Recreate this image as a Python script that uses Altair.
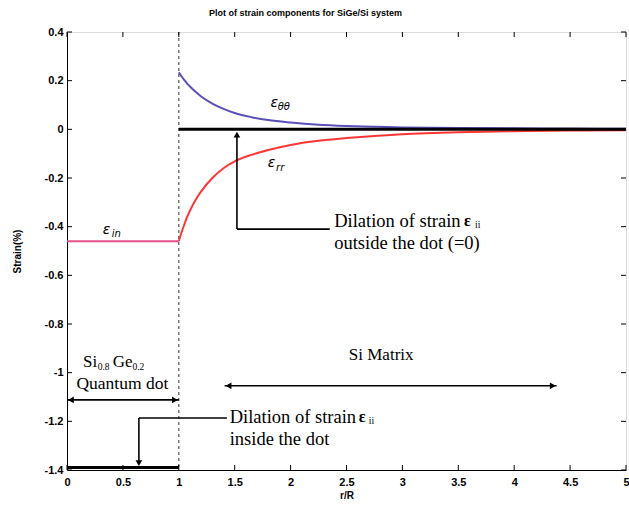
import altair as alt
import pandas as pd

# ---------------- data ----------------
r_out = [1.0, 1.025, 1.05, 1.075, 1.1, 1.15, 1.2, 1.3, 1.4, 1.5, 1.65, 1.8, 2.0, 2.25, 2.5, 2.75, 3.0, 3.5, 4.0, 4.5, 5.0]
eps_theta = [0.234, 0.217, 0.202, 0.188, 0.176, 0.154, 0.135, 0.106, 0.084, 0.067, 0.050, 0.038, 0.028, 0.019, 0.014, 0.011, 0.008, 0.005, 0.004, 0.003, 0.002]
eps_rr = [-0.46, -0.423, -0.39, -0.36, -0.334, -0.29, -0.255, -0.2, -0.16, -0.132, -0.105, -0.085, -0.064, -0.047, -0.036, -0.027, -0.02, -0.012, -0.008, -0.005, -0.004]
r_in = [0.0, 1.0]
eps_in = [-0.46, -0.46]
dil_out_r = [1.0, 5.0]
dil_out = [0.0, 0.0]
dil_in_r = [0.0, 1.0]
dil_in = [-1.39, -1.39]
dot_edge = [1.0]

x_ticks = [0, 0.5, 1, 1.5, 2, 2.5, 3, 3.5, 4, 4.5, 5]
y_ticks = [0.4, 0.2, 0, -0.2, -0.4, -0.6, -0.8, -1, -1.2, -1.4]

title_text = "Plot of strain components for SiGe/Si system"

# annotation arrows (data units): x, y, x2, y2
arrow_x = [1.52, 1.52, 0.643, 0.643, 0.0, 1.41]
arrow_y = [-0.41, -0.41, -1.186, -1.186, -1.112, -1.054]
arrow_x2 = [2.35, 1.52, 1.43, 0.643, 1.0, 4.38]
arrow_y2 = [-0.41, -0.02, -1.186, -1.37, -1.112, -1.054]
head_x = [1.52, 0.643, 0.035, 0.965, 1.445, 4.345]
head_y = [-0.022, -1.372, -1.112, -1.112, -1.054, -1.054]
head_shape = ["triangle-up", "triangle-down", "triangle-left", "triangle-right", "triangle-left", "triangle-right"]

# greek curve labels
eps_x = [0.32, 1.82, 1.795]
eps_y = [-0.415, 0.11, -0.14]
eps_sub_txt = ["in", "θθ", "rr"]
eps_sub_x = [0.40, 1.885, 1.87]
eps_sub_y = [-0.43, 0.092, -0.16]

# serif annotation text
dil_txt = ["Dilation of strain", "outside the dot (=0)", "Dilation of strain", "inside the dot"]
dil_x = [2.39, 2.39, 1.455, 1.455]
dil_y = [-0.376, -0.467, -1.182, -1.273]
center_txt = ["Quantum dot", "Si Matrix"]
center_x = [0.495, 2.81]
center_y = [-1.048, -0.926]
center_size = [17.5, 17]
elem_txt = ["Si", "Ge"]
elem_x = [0.143, 0.41]
elem_y = [-0.958, -0.958]
bold_eps_x = [3.55, 2.61]
bold_eps_y = [-0.376, -1.182]
small_txt = ["ii", "ii", "0.8", "0.2"]
small_x = [3.65, 2.70, 0.275, 0.585]
small_y = [-0.395, -1.2, -0.978, -0.978]

# ---------------- chart ----------------
W, H = 559, 438
FONT = "Liberation Sans"
SERIF = "Liberation Serif"

xs = alt.Scale(domain=[0, 5], nice=False, zero=False)
ys = alt.Scale(domain=[-1.4, 0.4], nice=False, zero=False)
xaxis = alt.Axis(values=x_ticks, labelExpr="'' + datum.value", ticks=False, grid=False,
                 labelFont=FONT, labelFontWeight="bold", labelFontSize=11, labelColor="black",
                 labelPadding=6, titleFont=FONT, titleFontWeight="bold", titleFontSize=10,
                 titleColor="black", titlePadding=3, domainColor="black", labelFlush=False)
yaxis = alt.Axis(values=y_ticks, labelExpr="'' + datum.value", ticks=False, grid=False,
                 labelFont=FONT, labelFontWeight="bold", labelFontSize=11, labelColor="black",
                 labelPadding=4, titleFont=FONT, titleFontWeight="bold", titleFontSize=10,
                 titleColor="black", titlePadding=22, domainColor="black")


def X(f):
    return alt.X(f, type="quantitative", scale=xs, axis=xaxis, title="r/R")


def Y(f):
    return alt.Y(f, type="quantitative", scale=ys, axis=yaxis, title="Strain(%)")


curves = pd.concat([
    pd.DataFrame({"x": r_out, "y": eps_theta, "s": "theta"}),
    pd.DataFrame({"x": r_out, "y": eps_rr, "s": "rr"}),
    pd.DataFrame({"x": r_in, "y": eps_in, "s": "in"}),
])
black = pd.concat([
    pd.DataFrame({"x": dil_out_r, "y": dil_out, "s": "out"}),
    pd.DataFrame({"x": dil_in_r, "y": dil_in, "s": "inside"}),
])

dashed = alt.Chart(pd.DataFrame({"x": dot_edge})).mark_rule(
    color="#555555", strokeDash=[3, 3], strokeWidth=1.2
).encode(x=X("x"), y=alt.value(0), y2=alt.value(H))

curve_layer = alt.Chart(curves).mark_line(strokeWidth=2, interpolate="monotone").encode(
    x=X("x"), y=Y("y"),
    color=alt.Color("s:N", scale=alt.Scale(domain=["theta", "rr", "in"],
                                           range=["#5a50b8", "#ff3535", "#e4508a"]), legend=None),
    detail="s:N",
)
black_layer = alt.Chart(black).mark_line(strokeWidth=3, color="black").encode(
    x=X("x"), y=Y("y"), detail="s:N")

xt = pd.DataFrame({"t": x_ticks})
yt = pd.DataFrame({"t": y_ticks})
tick_style = dict(color="black", strokeWidth=1)
ticks = [
    alt.Chart(xt).mark_rule(**tick_style).encode(x=X("t"), y=alt.value(H), y2=alt.value(H - 5)),
    alt.Chart(xt).mark_rule(**tick_style).encode(x=X("t"), y=alt.value(0), y2=alt.value(5)),
    alt.Chart(yt).mark_rule(**tick_style).encode(y=Y("t"), x=alt.value(0), x2=alt.value(5)),
    alt.Chart(yt).mark_rule(**tick_style).encode(y=Y("t"), x=alt.value(W), x2=alt.value(W - 5)),
]

arrows = alt.Chart(pd.DataFrame({"x": arrow_x, "y": arrow_y, "x2": arrow_x2, "y2": arrow_y2})).mark_rule(
    color="black", strokeWidth=1.6
).encode(x=X("x"), y=Y("y"), x2="x2:Q", y2="y2:Q")
heads = alt.Chart(pd.DataFrame({"x": head_x, "y": head_y, "sh": head_shape})).mark_point(
    filled=True, color="black", opacity=1, size=45
).encode(x=X("x"), y=Y("y"), shape=alt.Shape("sh:N", scale=None))

eps_main = alt.Chart(pd.DataFrame({"x": eps_x, "y": eps_y, "t": ["ε"] * 3})).mark_text(
    align="left", baseline="middle", font="DejaVu Sans", fontStyle="italic", fontSize=14, color="black"
).encode(x=X("x"), y=Y("y"), text="t:N")
eps_sub = alt.Chart(pd.DataFrame({"x": eps_sub_x, "y": eps_sub_y, "t": eps_sub_txt})).mark_text(
    align="left", baseline="middle", font="DejaVu Sans", fontStyle="italic", fontSize=10, color="black"
).encode(x=X("x"), y=Y("y"), text="t:N")

dil_layer = alt.Chart(pd.DataFrame({"x": dil_x, "y": dil_y, "t": dil_txt})).mark_text(
    align="left", baseline="middle", font=SERIF, fontSize=18.5, color="black"
).encode(x=X("x"), y=Y("y"), text="t:N")
center_layer = alt.Chart(pd.DataFrame({"x": center_x, "y": center_y, "t": center_txt, "fs": center_size})).mark_text(
    align="center", baseline="middle", font=SERIF, color="black"
).encode(x=X("x"), y=Y("y"), text="t:N", size=alt.Size("fs:Q", scale=None, legend=None))
elem_layer = alt.Chart(pd.DataFrame({"x": elem_x, "y": elem_y, "t": elem_txt})).mark_text(
    align="left", baseline="middle", font=SERIF, fontSize=17, color="black"
).encode(x=X("x"), y=Y("y"), text="t:N")
bold_eps = alt.Chart(pd.DataFrame({"x": bold_eps_x, "y": bold_eps_y, "t": ["ε"] * 2})).mark_text(
    align="left", baseline="middle", font=SERIF, fontWeight="bold", fontSize=16, color="black"
).encode(x=X("x"), y=Y("y"), text="t:N")
small = alt.Chart(pd.DataFrame({"x": small_x, "y": small_y, "t": small_txt})).mark_text(
    align="left", baseline="middle", font=SERIF, fontSize=9.5, color="black"
).encode(x=X("x"), y=Y("y"), text="t:N")

chart = alt.layer(
    dashed, curve_layer, black_layer, *ticks, arrows, heads,
    eps_main, eps_sub, dil_layer, center_layer, elem_layer, bold_eps, small,
).properties(
    width=W, height=H,
    title=alt.TitleParams(title_text, font=FONT, fontWeight="bold", fontSize=9, color="black",
                          anchor="middle", offset=8, dx=-41),
    autosize=alt.AutoSizeParams(type="none"),
    padding={"left": 67, "top": 32, "right": 3, "bottom": 35},
).configure_view(stroke="black", strokeWidth=1.2).configure(background="white")

chart.save("out.html", embed_options={"renderer": "svg", "actions": False})
